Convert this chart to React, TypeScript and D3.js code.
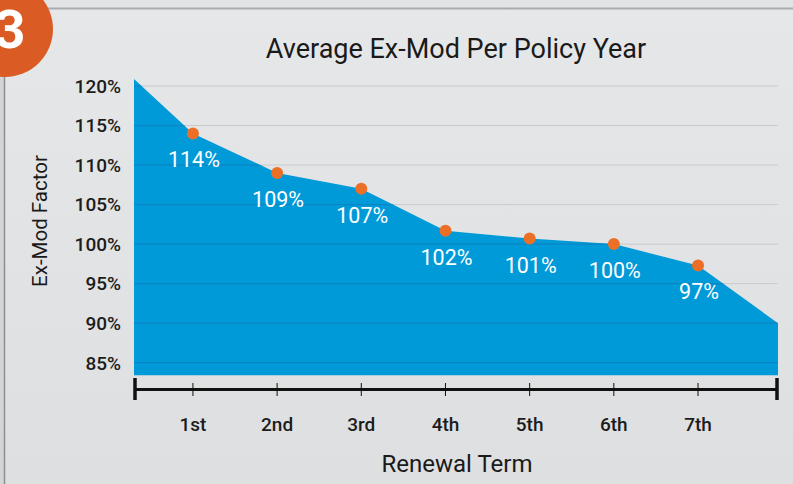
import React from "react";
import * as d3 from "d3";

const terms = ["1st", "2nd", "3rd", "4th", "5th", "6th", "7th"];
const termValues = [114.0, 109.0, 107.0, 101.7, 100.7, 100.0, 97.3];
const valueLabels = ["114%", "109%", "107%", "102%", "101%", "100%", "97%"];
const startValue = 120.9;
const endValue = 90.0;
const yTicks = [85, 90, 95, 100, 105, 110, 115, 120];

const W = 793;
const H = 484;

export default function App() {
  const x = d3.scaleLinear().domain([0.3, 7.95]).range([134, 778]);
  const y = d3.scaleLinear().domain([85, 120]).range([362.7, 86]);
  const yBottom = y(83.4);

  const areaPts: [number, number][] = [
    [0.3, startValue],
    ...termValues.map((v, i) => [i + 1, v] as [number, number]),
    [7.95, endValue],
  ];
  const area = d3
    .area<[number, number]>()
    .x((d) => x(d[0]))
    .y0(yBottom)
    .y1((d) => y(d[1]));

  const axisY = 389.5;
  const font = "Roboto, 'Noto Sans', sans-serif";

  return (
    <svg width={W} height={H} style={{ position: "absolute", left: 0, top: 0 }} fontFamily={font}>
      <defs>
        <linearGradient id="bg" x1="0" y1="0" x2="0" y2="1">
          <stop offset="0" stopColor="#e6e7e8" />
          <stop offset="1" stopColor="#dedfe0" />
        </linearGradient>
        <clipPath id="plotclip">
          <path d={area(areaPts) || ""} />
        </clipPath>
      </defs>
      <rect x={0} y={0} width={W} height={H} fill="url(#bg)" />
      <rect x={0} y={0} width={W} height={8} fill="#e2e3e4" />
      <rect x={0} y={0} width={4} height={H} fill="#d3d5d7" />
      <line x1={0} x2={W} y1={8.5} y2={8.5} stroke="#a9abad" strokeWidth={2} />
      <line x1={4.5} x2={4.5} y1={0} y2={H} stroke="#8d8f91" strokeWidth={1.5} />

      {yTicks.map((t) => (
        <line key={"g" + t} x1={134} x2={778} y1={y(t)} y2={y(t)} stroke="#c9cacc" strokeWidth={1} />
      ))}
      <path d={area(areaPts) || ""} fill="#009ad9" />
      <g clipPath="url(#plotclip)">
        {yTicks.map((t) => (
          <line key={"ga" + t} x1={134} x2={778} y1={y(t)} y2={y(t)} stroke="#0a86c2" strokeWidth={1.2} />
        ))}
      </g>

      {yTicks.map((t) => (
        <text
          key={"yl" + t}
          x={121}
          y={y(t)}
          dy="0.36em"
          textAnchor="end"
          fontSize={19}
          fontWeight={500}
          fill="#1c1c1c"
        >
          {t}%
        </text>
      ))}

      {termValues.map((v, i) => (
        <g key={"p" + i}>
          <circle cx={x(i + 1)} cy={y(v)} r={6} fill="#ec6f28" />
          <text
            x={x(i + 1) + 1}
            y={y(v) + 34}
            textAnchor="middle"
            fontSize={21.5}
            fill="#ffffff"
          >
            {valueLabels[i]}
          </text>
        </g>
      ))}

      <line x1={134} x2={778} y1={axisY} y2={axisY} stroke="#111" strokeWidth={3} />
      <line x1={135} x2={135} y1={378} y2={400} stroke="#111" strokeWidth={3.5} />
      <line x1={777} x2={777} y1={378} y2={400} stroke="#111" strokeWidth={3.5} />
      {terms.map((t, i) => (
        <g key={"xt" + t}>
          <line x1={x(i + 1)} x2={x(i + 1)} y1={383} y2={396} stroke="#111" strokeWidth={1} />
          <text
            x={x(i + 1)}
            y={431}
            textAnchor="middle"
            fontSize={19}
            fontWeight={500}
            fill="#1c1c1c"
          >
            {t}
          </text>
        </g>
      ))}

      <text x={456} y={58} textAnchor="middle" fontSize={27} fill="#1a1a1a">
        Average Ex-Mod Per Policy Year
      </text>
      <text x={457} y={471.5} textAnchor="middle" fontSize={24} fill="#1a1a1a">
        Renewal Term
      </text>
      <text
        transform={`translate(47, 221) rotate(-90)`}
        textAnchor="middle"
        fontSize={20.5}
        fill="#1a1a1a"
      >
        Ex-Mod Factor
      </text>

      <circle cx={5} cy={29} r={48} fill="#da5b23" />
      <text x={10} y={48} textAnchor="middle" fontSize={54} fontWeight={700} fill="#ffffff">
        3
      </text>
    </svg>
  );
}
